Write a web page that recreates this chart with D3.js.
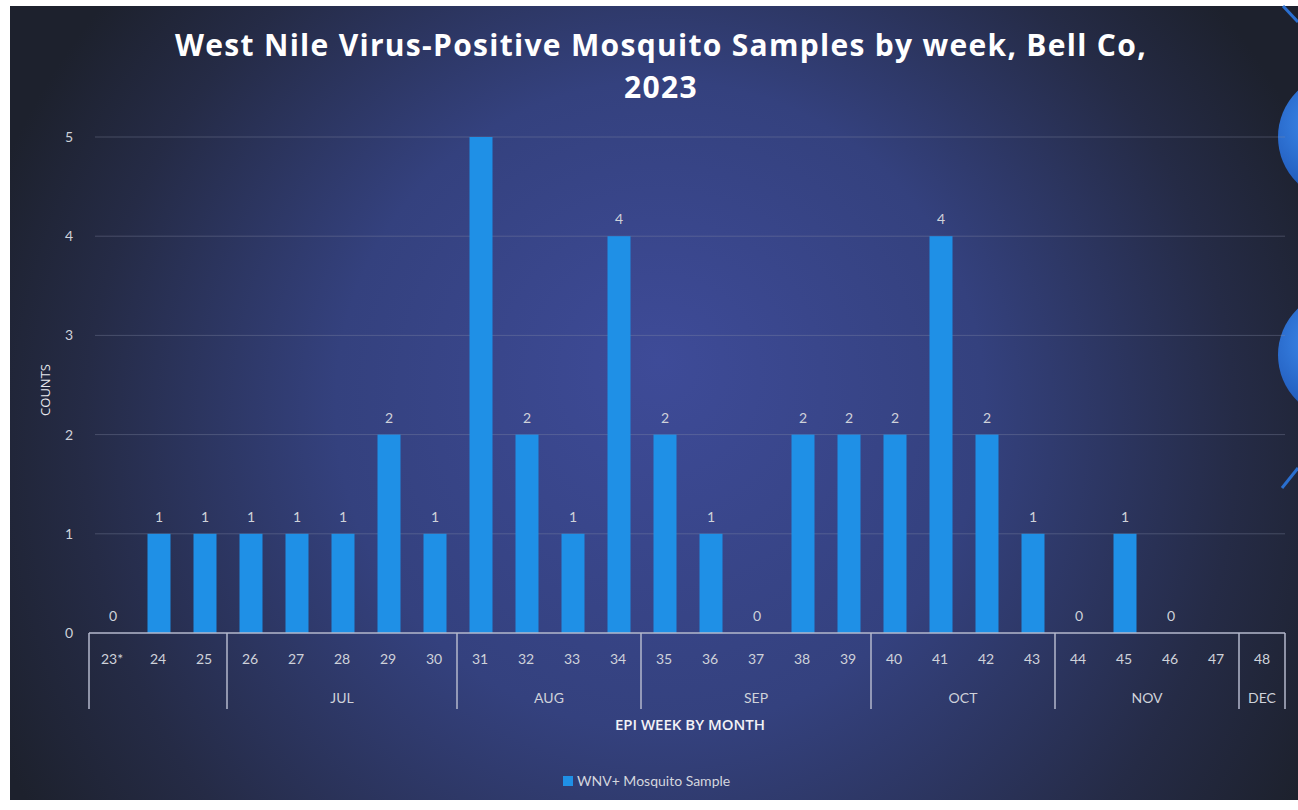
<!DOCTYPE html>
<html><head><meta charset="utf-8">
<script src="https://cdn.jsdelivr.net/npm/d3@7"></script>
<style>html,body{margin:0;padding:0;background:#fff;}svg{display:block;}</style>
</head><body>
<script>
const weeks = ["23*","24","25","26","27","28","29","30","31","32","33","34","35","36","37","38","39","40","41","42","43","44","45","46","47","48"];
const counts = [0,1,1,1,1,1,2,1,5,2,1,4,2,1,0,2,2,2,4,2,1,0,1,0,null,null];
const showLabel = [1,1,1,1,1,1,1,1,0,1,1,1,1,1,1,1,1,1,1,1,1,1,1,1,0,0];
const monthLabels = ["", "JUL", "AUG", "SEP", "OCT", "NOV", "DEC"];
const monthFirst = ["23*","26","31","35","40","44","48"];
const monthLast  = ["25","30","34","39","43","47","48"];
const yTicks = [0,1,2,3,4,5];

const W = 1298, H = 810;
const svg = d3.select("body").append("svg").attr("width", W).attr("height", H);
const defs = svg.append("defs");
const rg = defs.append("radialGradient").attr("id","bg").attr("gradientUnits","userSpaceOnUse")
  .attr("cx",660).attr("cy",460).attr("r",720).attr("fx",660).attr("fy",360);
rg.append("stop").attr("offset","0%").attr("stop-color","#3e4b98");
rg.append("stop").attr("offset","45%").attr("stop-color","#34417e");
rg.append("stop").attr("offset","80%").attr("stop-color","#252b46");
rg.append("stop").attr("offset","100%").attr("stop-color","#1d212d");
const sg = defs.append("radialGradient").attr("id","sph").attr("cx","35%").attr("cy","40%").attr("r","65%");
sg.append("stop").attr("offset","0%").attr("stop-color","#3f8ff0");
sg.append("stop").attr("offset","100%").attr("stop-color","#1a4fb0");

svg.append("rect").attr("x",10).attr("y",6).attr("width",W-10).attr("height",794).attr("fill","url(#bg)");

// decorative spheres at right edge (scan artifacts)
svg.append("circle").attr("cx",1342).attr("cy",137).attr("r",64).attr("fill","url(#sph)");
svg.append("circle").attr("cx",1342).attr("cy",355).attr("r",64).attr("fill","url(#sph)");
svg.append("line").attr("x1",1283).attr("y1",6).attr("x2",1298).attr("y2",22).attr("stroke","#2a6fd0").attr("stroke-width",3);
svg.append("line").attr("x1",1282).attr("y1",488).attr("x2",1298).attr("y2",468).attr("stroke","#2a6fd0").attr("stroke-width",3);

const x = d3.scaleBand().domain(weeks).range([90,1286]).paddingInner(0.5).paddingOuter(0.25);
const xe = d3.scaleBand().domain(weeks).range([89,1285]);
const y = d3.scaleLinear().domain([0,5]).range([633,137]);

// title
svg.append("text").attr("x",661).attr("y",56).attr("text-anchor","middle")
  .attr("font-family","Open Sans").attr("font-weight","bold").attr("font-size",30).attr("fill","#fff")
  .attr("letter-spacing",1.3)
  .text("West Nile Virus-Positive Mosquito Samples by week, Bell Co,");
svg.append("text").attr("x",661).attr("y",98).attr("text-anchor","middle")
  .attr("font-family","Open Sans").attr("font-weight","bold").attr("font-size",30).attr("fill","#fff")
  .attr("letter-spacing",1.3).text("2023");

// gridlines
svg.append("g").selectAll("line").data(yTicks.filter(d=>d>0)).join("line")
  .attr("x1",95).attr("x2",1285).attr("y1",d=>y(d)).attr("y2",d=>y(d))
  .attr("stroke","#8a90a8").attr("stroke-opacity",0.35).attr("stroke-width",1);

// y axis labels
const yAxis = d3.axisLeft(y).tickValues(yTicks).tickSize(0).tickPadding(0).tickFormat(d3.format("d"));
const gy = svg.append("g").attr("transform","translate(73,0)").call(yAxis);
gy.select(".domain").remove();
gy.selectAll("text").attr("font-family","Lato").attr("font-size",14).attr("fill","#cfd2da");

svg.append("text").attr("transform","translate(50,390) rotate(-90)").attr("text-anchor","middle")
  .attr("font-family","Open Sans").attr("font-size",13).attr("fill","#e8e8ee").text("COUNTS");

// bars
svg.append("g").selectAll("rect").data(weeks.map((w,i)=>({w,v:counts[i]})).filter(d=>d.v!=null && d.v>0)).join("rect")
  .attr("x",d=>x(d.w)).attr("width",x.bandwidth()).attr("y",d=>y(d.v)).attr("height",d=>y(0)-y(d.v))
  .attr("fill","#1f90e6");

// data labels
svg.append("g").selectAll("text").data(weeks.map((w,i)=>({w,v:counts[i],s:showLabel[i]})).filter(d=>d.v!=null && d.s)).join("text")
  .attr("x",d=>x(d.w)+x.bandwidth()/2).attr("y",d=>y(d.v)-12).attr("text-anchor","middle")
  .attr("font-family","Lato").attr("font-size",14).attr("fill","#cfd2da").text(d=>d.v);

// x axis line
svg.append("line").attr("x1",89).attr("x2",1285).attr("y1",y(0)).attr("y2",y(0)).attr("stroke","#b4b8cc").attr("stroke-width",1.5);

// week labels
const xAxis = d3.axisBottom(xe).tickSize(0).tickPadding(0);
const gx = svg.append("g").attr("transform",`translate(0,${y(0)+27})`).call(xAxis);
gx.select(".domain").remove();
gx.selectAll("text").attr("font-family","Lato").attr("font-size",14).attr("fill","#cfd2da").attr("dy","0.32em");

// month separators and labels
const seps = monthFirst.map(w=>xe(w)).concat([xe(weeks[weeks.length-1])+xe.bandwidth()]);
svg.append("g").selectAll("line").data(seps).join("line")
  .attr("x1",d=>d).attr("x2",d=>d).attr("y1",y(0)).attr("y2",y(0)+76)
  .attr("stroke","#b4b8cc").attr("stroke-width",1.5);
svg.append("g").selectAll("text").data(monthLabels.map((m,i)=>({m,i}))).join("text")
  .attr("x",d=>(xe(monthFirst[d.i])+xe(monthLast[d.i])+xe.bandwidth())/2).attr("y",y(0)+70)
  .attr("text-anchor","middle").attr("font-family","Lato").attr("font-size",14).attr("fill","#cfd2da").text(d=>d.m);

svg.append("text").attr("x",690).attr("y",730).attr("text-anchor","middle")
  .attr("font-family","Open Sans").attr("font-weight","600").attr("font-size",15).attr("fill","#f2f2f6").text("EPI WEEK BY MONTH");

// legend
svg.append("rect").attr("x",563).attr("y",776).attr("width",10).attr("height",10).attr("fill","#1f90e6");
svg.append("text").attr("x",577).attr("y",786).attr("font-family","Lato").attr("font-size",14).attr("fill","#d4d6de").text("WNV+ Mosquito Sample");
</script>
</body></html>
